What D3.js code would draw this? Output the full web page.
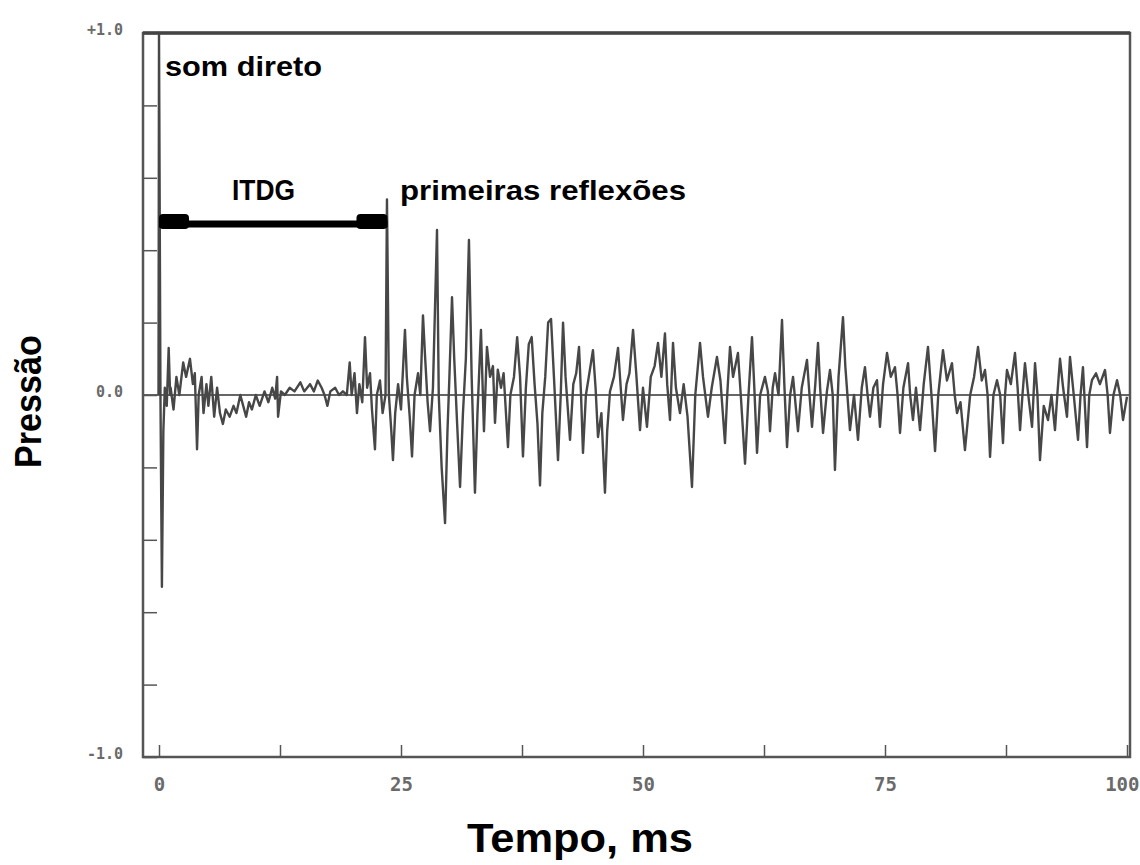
<!DOCTYPE html>
<html lang="pt">
<head>
  <meta charset="UTF-8">
  <title>Resposta impulsiva - ITDG</title>
  <script src="https://d3js.org/d3.v7.min.js"></script>
  <style>
  body{ margin:0; background:#fff; }
  .tick line{ stroke:#555; stroke-width:1.5; }
  .tick text{ fill:#6a6a6a; font-family:"DejaVu Sans Mono", monospace; font-weight:bold; }
  .wave{ fill:none; stroke:#474747; stroke-width:2.4; stroke-linejoin:round; }
  .note{ font-family:"Liberation Sans", Arial, sans-serif; font-weight:bold; fill:#000; }
  </style>
</head>
<body>
  <div class="container"></div>
  <script>
  // tempo (ms), pressão normalizada
  var directSound = [[-0.05,0],[0.0,1.0],[0.15,0.0],[0.3,-0.53],[0.45,-0.1],[0.6,0.02],[0.8,-0.03],[1.0,0.13],[1.15,0.0]];
  var itdgNoise = [[1.2,0.02],[1.5,-0.04],[1.8,0.05],[2.1,0.0],[2.5,0.09],[2.8,0.05],[3.2,0.10],[3.5,0.03],[3.7,0.06],[3.93,-0.15],
    [4.1,0.0],[4.4,0.05],[4.6,-0.05],[4.9,0.03],[5.1,-0.03],[5.4,0.05],[5.7,-0.06],[6.0,0.02],[6.3,-0.05],[6.6,-0.08],
    [6.9,-0.04],[7.3,-0.06],[7.7,-0.03],[8.0,-0.05],[8.4,0.0],[8.7,-0.03],[9.0,-0.06],[9.3,-0.02],[9.6,-0.04],[10.0,0.0],
    [10.4,-0.03],[10.9,0.01],[11.3,-0.02],[11.7,0.02],[12.0,-0.01],[12.2,0.05],[12.3,-0.06],[12.6,0.01],[13.0,0.0],[13.5,0.02],
    [14.0,0.01],[14.6,0.035],[15.0,0.01],[15.6,0.03],[16.0,0.01],[16.4,0.04],[16.8,0.02],[17.1,0.0],[17.4,-0.03],[17.7,0.01],
    [18.2,0.02],[18.6,0.0],[19.0,0.01],[19.4,0.0],[19.7,0.09],[19.9,0.0],[20.2,0.06],[20.45,-0.05],[20.7,0.03],[21.0,-0.02],
    [21.28,0.16],[21.5,0.02],[21.8,0.06],[22.0,-0.04],[22.31,-0.15],[22.5,0.0],[22.83,0.04],[23.1,-0.05],[23.4,0.0]];
  var earlyReflections = [[23.55,0.54],[23.75,0.0],[24.0,-0.1],[24.17,-0.18],[24.4,-0.05],[24.7,0.03],[25.0,-0.04],[25.41,0.18],
    [25.6,0.05],[25.9,-0.06],[26.14,-0.17],[26.4,0.0],[26.76,0.06],[27.0,0.0],[27.27,0.22],[27.5,0.1],[27.75,-0.02],[28.0,-0.1],
    [28.3,0.02],[28.72,0.456],[28.9,0.0],[29.2,-0.2],[29.55,-0.354],[29.8,-0.1],[30.0,0.05],[30.27,0.27],[30.5,0.1],[30.8,-0.08],
    [31.1,-0.254],[31.4,-0.05],[31.7,0.1],[32.02,0.428],[32.3,0.05],[32.64,-0.27],[32.9,-0.05],[33.26,0.18],[33.57,-0.1],
    [33.88,0.133],[34.2,0.05],[34.5,0.08],[34.71,-0.077],[35.0,0.07],[35.33,0.02],[35.6,0.06],[36.05,-0.144],[36.3,0.0],
    [36.67,0.05],[37.0,0.16],[37.3,0.05],[37.6,-0.17],[37.9,0.02],[38.2,0.14],[38.5,0.16],[38.8,0.03],[39.1,-0.08],[39.36,-0.25],
    [39.6,-0.05],[39.9,0.05],[40.2,0.2],[40.5,0.21],[40.8,0.05],[41.22,-0.18],[41.5,0.0],[41.74,0.2],[42.0,0.05],[42.46,-0.124],
    [42.8,0.03],[43.1,0.06],[43.39,0.133],[43.6,0.0],[43.8,-0.16],[44.1,0.0],[44.4,0.05],[44.83,0.124],[45.1,0.02],[45.35,-0.116],
    [45.7,-0.05],[46.07,-0.27],[46.3,-0.1],[46.59,0.01],[47.0,0.05],[47.42,0.13],[47.7,0.02],[47.93,-0.069],[48.3,0.03],[48.6,0.06],
    [48.97,0.18],[49.3,0.06],[49.69,-0.097],[50.0,0.02],[50.41,-0.088]];
  var lateDecay = [[50.8,0.05],[51.2,0.08],[51.55,0.144],[51.9,0.05],[52.27,0.17],[52.5,0.03],[52.79,-0.069],[53.1,0.144],
    [53.4,0.02],[53.82,-0.05],[54.2,0.03],[54.6,-0.06],[55.06,-0.254],[55.4,0.0],[55.89,0.144],[56.2,0.05],[56.71,-0.06],[57.1,0.02],
    [57.64,0.105],[58.0,0.04],[58.47,-0.133],[58.7,0.0],[58.99,0.133],[59.3,0.05],[59.81,0.116],[60.1,0.0],[60.54,-0.19],[60.9,0.0],
    [61.26,0.16],[61.5,0.02],[61.78,-0.16],[62.1,0.0],[62.6,0.05],[62.9,0.01],[63.12,-0.1],[63.4,0.02],[63.64,0.06],[64.0,0.0],
    [64.36,0.207],[64.6,0.03],[64.88,-0.144],[65.2,0.0],[65.5,0.05],[66.01,-0.1],[66.4,0.02],[66.94,0.097],[67.2,0.0],[67.46,-0.088],
    [67.8,0.03],[68.08,0.144],[68.3,0.02],[68.6,-0.105],[69.0,0.01],[69.32,0.069],[69.6,0.0],[69.83,-0.207],[70.2,0.05],[70.66,0.215],
    [70.9,0.08],[71.38,-0.097],[71.8,0.0],[72.21,-0.124],[72.6,0.02],[72.93,0.077],[73.2,0.0],[73.45,-0.06],[73.8,0.02],[74.17,0.041],
    [74.48,-0.088],[74.8,0.03],[75.21,0.116],[75.6,0.05],[76.03,0.077],[76.3,0.0],[76.55,-0.105],[76.9,0.02],[77.38,0.088],[77.6,0.0],
    [77.89,-0.069],[78.2,0.02],[78.62,-0.097],[79.0,0.03],[79.44,0.133],[79.8,0.0],[80.17,-0.155],[80.5,0.0],[80.99,0.124],[81.4,0.04],
    [81.92,0.088],[82.2,0.0],[82.44,-0.05],[82.8,-0.02],[83.26,-0.152],[83.8,0.0],[84.2,0.05],[84.61,0.133],[85.0,0.04],[85.33,0.069],
    [85.6,0.0],[85.85,-0.171],[86.2,0.0],[86.57,0.041],[86.9,0.0],[87.19,-0.133],[87.4,0.0],[87.6,0.069],[88.0,0.03],[88.43,0.116],
    [88.7,0.02],[88.95,-0.097],[89.2,0.0],[89.46,0.088],[89.8,0.0],[90.19,-0.088],[90.5,0.088],[90.75,0.0],[91.01,-0.18],[91.4,-0.03],
    [91.84,-0.069],[92.2,0.0],[92.56,-0.097],[92.8,0.0],[93.08,0.1],[93.4,0.02],[93.8,-0.06],[94.11,0.105],[94.5,0.0],[94.94,-0.124],
    [95.2,0.0],[95.45,0.077],[95.87,-0.144],[96.1,0.0],[96.38,0.041],[96.8,0.06],[97.2,0.03],[97.73,0.069],[98.0,0.0],[98.24,-0.105],
    [98.6,0.0],[98.97,0.041],[99.3,0.0],[99.59,-0.069],[100.0,-0.005]];

  var xTicks = [0,12.5,25,37.5,50,62.5,75,87.5,100];
  var xLabels = [0,25,50,75,100];
  var yTicks = [-1,-0.8,-0.6,-0.4,-0.2,0,0.2,0.4,0.6,0.8,1];
  var yLabels = {"1":"+1.0", "0":"0.0", "-1":"-1.0"};
  var itdg = [0, 23.6];

  var w = 1140, h = 865;
  var frame = {left:143, top:33, right:1130, bottom:757};

  var xScale = d3.scaleLinear().domain([0,100]).range([159,1127]);
  var yScale = d3.scaleLinear().domain([-1,1]).range([frame.bottom, frame.top]);

  var svg = d3.select('.container').append('svg')
      .attr('width', w).attr('height', h);

  // linha de zero
  svg.append('line')
     .attr('x1', frame.left).attr('x2', frame.right)
     .attr('y1', yScale(0)).attr('y2', yScale(0))
     .attr('stroke', '#333').attr('stroke-width', 1.5);

  var series = directSound.concat(itdgNoise, earlyReflections, lateDecay);
  var line = d3.line()
      .x(function(d){ return xScale(d[0]); })
      .y(function(d){ return yScale(d[1]); });
  svg.append('path').attr('class','wave').attr('d', line(series));

  // eixos (ticks para dentro)
  var xAxis = d3.axisBottom(xScale).tickValues(xTicks)
      .tickSizeInner(-12).tickSizeOuter(0).tickPadding(21)
      .tickFormat(function(d){ return xLabels.indexOf(d) >= 0 ? d : ''; });
  var gx = svg.append('g').attr('transform','translate(0,'+frame.bottom+')').call(xAxis);
  gx.select('.domain').remove();
  gx.selectAll('text').style('font-size','19px');
  gx.selectAll('.tick:last-of-type text').attr('text-anchor','end').attr('dx','12px');

  var yAxis = d3.axisLeft(yScale).tickValues(yTicks)
      .tickSizeInner(-14).tickSizeOuter(0).tickPadding(20)
      .tickFormat(function(d){ var k = String(Math.round(d*10)/10); return yLabels[k] || ''; });
  var gy = svg.append('g').attr('transform','translate('+frame.left+',0)').call(yAxis);
  gy.select('.domain').remove();
  gy.selectAll('text').style('font-size','15px').attr('dy','0.1em');

  // moldura
  svg.append('rect')
     .attr('x', frame.left).attr('y', frame.top)
     .attr('width', frame.right - frame.left).attr('height', frame.bottom - frame.top)
     .attr('fill','none').attr('stroke','#555').attr('stroke-width',2.5);
  svg.append('line')
     .attr('x1', frame.left).attr('x2', frame.right)
     .attr('y1', frame.top).attr('y2', frame.top)
     .attr('stroke','#444').attr('stroke-width',3.5);

  // barra ITDG
  var barY = 224;
  svg.append('line')
     .attr('x1', xScale(itdg[0])).attr('x2', xScale(itdg[1]))
     .attr('y1', barY).attr('y2', barY)
     .attr('stroke','#000').attr('stroke-width',7);
  [[itdg[0], itdg[0]+3.1], [itdg[1]-3.2, itdg[1]]].forEach(function(c){
    svg.append('rect')
       .attr('x', xScale(c[0])).attr('y', barY-10)
       .attr('width', xScale(c[1]) - xScale(c[0])).attr('height', 15)
       .attr('rx', 4).attr('fill','#000');
  });

  // textos
  function note(txt, x, y, size, len, anchor){
    return svg.append('text').attr('class','note')
      .attr('x', x).attr('y', y)
      .attr('text-anchor', anchor || 'start')
      .attr('textLength', len).attr('lengthAdjust','spacingAndGlyphs')
      .style('font-size', size+'px').text(txt);
  }
  note('som direto', 165, 76, 28, 157);
  note('ITDG', 232, 200, 29, 63);
  note('primeiras reflexões', 400, 200, 28, 286);
  note('Tempo, ms', 467, 852, 40, 226);
  svg.append('text').attr('class','note')
     .attr('transform','translate(41,468) rotate(-90)')
     .attr('textLength', 133).attr('lengthAdjust','spacingAndGlyphs')
     .style('font-size','36px').text('Pressão');
  </script>
</body>
</html>
